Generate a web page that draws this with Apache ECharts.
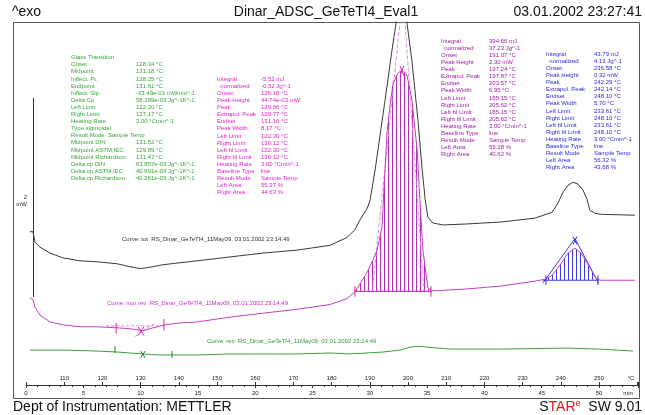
<!DOCTYPE html>
<html>
<head>
<meta charset="utf-8">
<script src="https://cdn.jsdelivr.net/npm/echarts@6/dist/echarts.min.js"></script>
<style>
html, body { margin: 0; padding: 0; background: #fff; }
#main { width: 645px; height: 415px; }
</style>
</head>
<body>
<div id="main"></div>
<script>
// curves: [temperature °C, signal mW (arbitrary offset)]
var totCurve = [[101.0,1.58],[101.8,1.58],[102.4,1.47],[103.7,1.42],[106.3,1.36],[109.7,1.31],[114.1,1.28],[118.6,1.27],[123.8,1.25],[127.2,1.22],[129.8,1.20],[131.7,1.21],[133.3,1.22],[135.9,1.24],[140.3,1.26],[144.8,1.28],[153.4,1.32],[162.0,1.36],[170.9,1.39],[179.6,1.44],[184.0,1.52],[186.1,1.60],[187.4,1.70],[189.3,1.82],[190.1,1.91],[191.4,2.22],[194.0,2.94],[195.8,3.45],[196.9,3.74],[198.2,4.40],[199.7,3.74],[201.0,3.35],[202.6,2.73],[203.7,2.22],[204.5,1.91],[205.2,1.73],[206.5,1.67],[209.2,1.65],[215.4,1.66],[224.3,1.68],[233.2,1.72],[237.7,1.78],[239.3,1.88],[240.6,1.99],[241.9,2.06],[243.2,2.09],[244.5,2.07],[245.8,2.01],[246.9,1.91],[247.6,1.80],[249.0,1.77],[250.3,1.76],[259.4,1.75]];
var nonRevCurve = [[101.0,0.90],[101.8,0.88],[102.4,0.80],[103.7,0.72],[106.3,0.65],[109.7,0.62],[114.1,0.60],[118.6,0.60],[123.8,0.59],[127.2,0.58],[130.6,0.56],[133.3,0.59],[136.4,0.62],[140.3,0.64],[144.8,0.65],[153.4,0.70],[162.0,0.74],[170.9,0.78],[179.6,0.83],[184.0,0.89],[186.1,0.96],[189.3,1.16],[190.6,1.27],[191.9,1.39],[193.2,1.63],[193.7,2.01],[194.5,2.60],[195.3,2.89],[196.1,3.11],[197.4,3.22],[198.4,3.24],[199.7,3.20],[201.0,2.94],[202.4,2.42],[203.1,1.91],[203.9,1.39],[205.2,1.00],[206.5,0.97],[215.4,0.99],[224.3,1.02],[233.2,1.07],[235.9,1.09],[237.7,1.13],[239.3,1.21],[241.9,1.36],[243.7,1.41],[245.3,1.36],[247.9,1.19],[249.2,1.10],[250.3,1.08],[259.4,1.08]];
var revCurve = [[101.0,0.36],[109.7,0.36],[118.6,0.35],[123.8,0.34],[127.2,0.33],[130.6,0.32],[134.3,0.31],[137.7,0.31],[144.8,0.31],[153.4,0.32],[162.0,0.32],[170.9,0.32],[179.6,0.33],[184.8,0.32],[193.5,0.34],[197.9,0.36],[200.5,0.39],[203.1,0.40],[205.0,0.39],[211.0,0.37],[224.1,0.37],[241.6,0.38],[250.3,0.37],[258.9,0.35]];

// peak evaluations: limits and baseline level
var peak1Limits = [186.1, 206.5];
var peak1Base = 0.966;
var peak2Limits = [235.9, 249.2];
var peak2Base = 1.08;
var peak1Baseline = [[186.1,0.966],[206.3,0.966]];
var peak2Baseline = [[235.3,1.08],[249.9,1.08]];
var peak1Tangents = [[[190.6,0.95],[197.9,3.74]], [[204.2,0.95],[199.2,3.74]]];
var peak2Tangents = [[[235.3,1.05],[243.7,1.51]], [[243.7,1.51],[249.9,1.05]]];

// small evaluation marks
var magentaMarks = [[[123.6,0.64],[123.6,0.53]], [[136.1,0.68],[136.1,0.56]], [[129.3,0.60],[130.9,0.51]], [[129.3,0.51],[130.9,0.60]], [[186.1,1.02],[186.1,0.91]], [[206.0,1.02],[206.0,0.91]], [[197.9,3.29],[198.9,3.19]], [[197.9,3.19],[198.9,3.29]]];
var glassTangent = [[[121.0,0.61],[134.5,0.61]], [[128.6,0.50],[133.7,0.64]]];
var greenMarks = [[[123.3,0.40],[123.3,0.33]], [[138.2,0.35],[138.2,0.28]], [[130.0,0.35],[131.2,0.28]], [[130.0,0.28],[131.2,0.35]]];
var blueMarks = [[[236.1,1.13],[236.1,1.03]], [[249.7,1.13],[249.7,1.03]], [[243.2,1.53],[244.2,1.45]], [[243.2,1.45],[244.2,1.53]]];

// result tables
var glassLabels = ['Glass Transition','Onset','Midpoint','Inflect. Pt.','Endpoint','Inflect. Slp.','Delta Cp','Left Limit','Right Limit','Heating Rate','Type sigmoidal','Result Mode  Sample Temp','Midpoint DIN','Midpoint ASTM,IEC','Midpoint Richardson','Delta cp DIN','Delta cp ASTM,IEC','Delta cp Richardson'];
var glassValues = ['','128.34 °C','131.18 °C','128.25 °C','131.61 °C','-33.49e-03 mWmin^-1','58.199e-03 Jg^-1K^-1','122.20 °C','137.17 °C','3.00 °Cmin^-1','','','131.52 °C','129.89 °C','131.47 °C','63.857e-03 Jg^-1K^-1','40.691e-03 Jg^-1K^-1','40.261e-03 Jg^-1K^-1'];
var peakLabels = ['Integral','  normalized','Onset','Peak Height','Peak','Extrapol. Peak','Endset','Peak Width','Left Limit','Right Limit','Left bl Limit','Right bl Limit','Heating Rate','Baseline Type','Result Mode','Left Area','Right Area'];
var smallPeakValues = ['-5.52 mJ','-0.52 Jg^-1','126.18 °C','44.74e-03 mW','129.86 °C','129.77 °C','131.16 °C','8.17 °C','122.30 °C','136.12 °C','122.30 °C','136.12 °C','3.00 °Cmin^-1','line','Sample Temp','55.37 %','44.63 %'];
var mainPeakValues = ['394.66 mJ','37.23 Jg^-1','191.07 °C','2.30 mW','197.24 °C','197.87 °C','203.57 °C','6.95 °C','185.15 °C','205.62 °C','185.15 °C','205.62 °C','3.00 °Cmin^-1','line','Sample Temp','59.38 %','40.62 %'];
var bluePeakValues = ['43.79 mJ','4.13 Jg^-1','236.58 °C','0.32 mW','242.29 °C','242.14 °C','248.10 °C','5.70 °C','233.61 °C','248.10 °C','233.61 °C','248.10 °C','3.00 °Cmin^-1','line','Sample Temp','56.32 %','43.68 %'];

var curveNames = ['Curve: tot  RS_Dinar_GeTeTI4_11May09, 03.01.2002 23:14:49',
                  'Curve: non rev  RS_Dinar_GeTeTI4_11May09, 03.01.2002 23:14:49',
                  'Curve: rev  RS_Dinar_GeTeTI4_11May09, 03.01.2002 23:14:49'];

var tempMin = 100, tempMax = 260.2, heatingRate = 3;

var FONT = 'Liberation Sans';

function segments(list) {
    var out = [];
    list.forEach(function (s) {
        out.push(s[0], s[1], [s[1][0], '-']);
    });
    return out;
}

function inRange(data, lim) {
    return data.filter(function (p) { return p[0] >= lim[0] && p[0] <= lim[1]; });
}

function stripes(color) {
    var c = document.createElement('canvas');
    c.width = 4; c.height = 2;
    var ctx = c.getContext('2d');
    ctx.fillStyle = color;
    ctx.fillRect(0, 0, 1, 2);
    return c;
}

function plainLine(name, data, color, extra) {
    var s = {
        name: name, type: 'line', data: data, symbol: 'none', silent: true,
        lineStyle: { color: color, width: 1 },
        connectNulls: false, animation: false
    };
    for (var k in extra) s[k] = extra[k];
    return s;
}

function txt(x, y, text, color, size, align, extra) {
    var st = {
        text: text, fill: color, fontSize: size || 6, fontFamily: FONT,
        align: align || 'left', textAlign: align || 'left',
        verticalAlign: 'middle', textVerticalAlign: 'middle'
    };
    for (var k in extra) st[k] = extra[k];
    return { type: 'text', x: x, y: y, style: st, silent: true };
}

function table(x, y, lines, color) {
    return {
        type: 'text', x: x, y: y, silent: true,
        style: { text: lines.join('\n'), fill: color, fontSize: 6, fontFamily: FONT,
                 lineHeight: 7.1, align: 'left', verticalAlign: 'top' }
    };
}

var chart = echarts.init(document.getElementById('main'));

chart.setOption({
    animation: false,
    textStyle: { fontFamily: FONT },
    grid: { left: 26, right: 7, top: 22, bottom: 30 },
    xAxis: [{
        type: 'value', min: tempMin, max: tempMax, interval: 10, position: 'bottom',
        axisLine: { show: true, lineStyle: { color: '#333', width: 1 } },
        axisTick: { show: true, inside: true, length: 3, lineStyle: { color: '#333' } },
        axisLabel: { inside: true, margin: 4, fontSize: 6, color: '#222',
            formatter: function (v) { return (v >= 110 && v <= 250) ? v : ''; } },
        splitLine: { show: false }
    }, {
        type: 'value', min: 0, max: (tempMax - tempMin) / heatingRate, interval: 5, position: 'bottom',
        axisLine: { show: false },
        axisTick: { show: true, length: 3, lineStyle: { color: '#333' } },
        minorTick: { show: true, splitNumber: 5, length: 2, lineStyle: { color: '#333' } },
        axisLabel: { margin: 5, fontSize: 6, color: '#222',
            formatter: function (v) { return v <= 50 ? v : ''; } },
        splitLine: { show: false }
    }],
    yAxis: { type: 'value', min: 0, max: 3.742, show: false },
    graphic: [
        { type: 'rect', shape: { x: 13.5, y: 22.5, width: 626, height: 376 },
          style: { fill: 'none', stroke: '#555', lineWidth: 1 }, silent: true, z: -10 },
        { type: 'line', shape: { x1: 33.5, y1: 98, x2: 33.5, y2: 297 },
          style: { stroke: '#333', lineWidth: 1 }, silent: true },
        txt(27, 197, '2', '#222', 6, 'right'),
        txt(27, 204.5, 'mW', '#222', 6, 'right'),
        txt(12, 12, '^exo', '#111', 14, 'left'),
        txt(326, 12, 'Dinar_ADSC_GeTeTI4_Eval1', '#111', 14, 'center'),
        txt(642, 12, '03.01.2002 23:27:41', '#111', 14, 'right'),
        txt(13, 407, 'Dept of Instrumentation: METTLER', '#111', 14, 'left'),
        txt(642, 407, '{n|S}{r|TAR}{s|e}{n|  SW 9.01}', '#111', 14, 'right', {
            rich: {
                n: { fill: '#111', fontSize: 14, fontFamily: FONT, lineHeight: 16 },
                r: { fill: '#e01818', fontSize: 14, fontFamily: FONT, lineHeight: 16 },
                s: { fill: '#e01818', fontSize: 9, fontFamily: FONT, lineHeight: 16, verticalAlign: 'top' }
            }
        }),
        txt(631, 378, '°C', '#222', 6, 'center'),
        txt(628, 393, 'min', '#222', 6, 'center'),
        table(71, 54, glassLabels, '#3aa53a'),
        table(136, 54, glassValues, '#3aa53a'),
        table(217, 75.5, peakLabels, '#e024c4'),
        table(261, 75.5, smallPeakValues, '#e024c4'),
        table(441, 37.5, peakLabels, '#a020a8'),
        table(489, 37.5, mainPeakValues, '#a020a8'),
        table(546, 50.5, peakLabels, '#2a2ad6'),
        table(594, 50.5, bluePeakValues, '#2a2ad6'),
        txt(122, 239.5, curveNames[0], '#333', 6, 'left'),
        txt(107, 303.3, curveNames[1], '#c030c0', 6, 'left'),
        txt(207, 341.7, curveNames[2], '#2f9a2f', 6, 'left')
    ],
    series: [
        plainLine('hatch main', inRange(nonRevCurve, peak1Limits), '#b030b8', {
            lineStyle: { width: 0, opacity: 0 },
            areaStyle: { origin: peak1Base, opacity: 1, color: { image: stripes('#b030b8'), repeat: 'repeat' } },
            z: 1
        }),
        plainLine('hatch blue', inRange(nonRevCurve, peak2Limits), '#3a3ae0', {
            lineStyle: { width: 0, opacity: 0 },
            areaStyle: { origin: peak2Base, opacity: 1, color: { image: stripes('#3a3ae0'), repeat: 'repeat' } },
            z: 1
        }),
        plainLine('tangents main', segments(peak1Tangents), '#d890d8', { lineStyle: { color: '#d890d8', width: 1, type: [4, 2] }, z: 2 }),
        plainLine('tangents blue', segments(peak2Tangents), '#4040e0', { z: 2 }),
        plainLine('baseline main', peak1Baseline, '#a020a8', { z: 2 }),
        plainLine('baseline blue', peak2Baseline, '#3a3ae0', { z: 2 }),
        plainLine('glass tangent', segments(glassTangent), '#ee80d8', { lineStyle: { color: '#ee80d8', width: 1, type: [3, 2] }, z: 2 }),
        plainLine('tot', totCurve, '#3a3a3a', { z: 3 }),
        plainLine('non rev', nonRevCurve, '#c040c0', { z: 3 }),
        plainLine('rev', revCurve, '#3c9c3c', { z: 3 }),
        plainLine('marks magenta', segments(magentaMarks), '#e020b0', { z: 4 }),
        plainLine('marks green', segments(greenMarks), '#1f801f', { z: 4 }),
        plainLine('marks blue', segments(blueMarks), '#3030e0', { z: 4 })
    ]
});
</script>
</body>
</html>
